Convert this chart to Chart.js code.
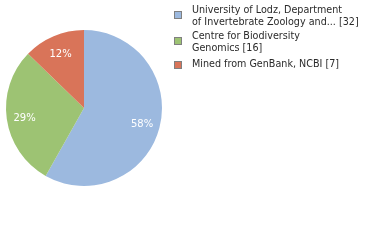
<!DOCTYPE html>
<html><head><meta charset="utf-8">
<script src="https://cdn.jsdelivr.net/npm/chart.js@4/dist/chart.umd.min.js"></script>
<style>html,body{margin:0;padding:0;background:#fff}#wrap{width:380px;height:240px;position:relative}</style>
</head><body><div id="wrap"><canvas id="c" width="380" height="240"></canvas></div>
<script>
const legendLines = [
  ["University of Lodz, Department", "of Invertebrate Zoology and... [32]"],
  ["Centre for Biodiversity", "Genomics [16]"],
  ["Mined from GenBank, NCBI [7]"]
];
const categories = ["University of Lodz, Department of Invertebrate Zoology and...", "Centre for Biodiversity Genomics", "Mined from GenBank, NCBI"];
const counts = [32, 16, 7];
const colors = ["#9cb9df", "#9dc373", "#d97459"];

const FONT = '"DejaVu Sans", Verdana, sans-serif';

const labelPlugin = {
  id: 'pctLabels',
  afterDatasetsDraw(chart) {
    const ctx = chart.ctx;
    const meta = chart.getDatasetMeta(0);
    const total = counts.reduce((a, b) => a + b, 0);
    ctx.save();
    ctx.font = '10px ' + FONT;
    ctx.fillStyle = '#ffffff';
    ctx.textAlign = 'center';
    ctx.textBaseline = 'middle';
    meta.data.forEach((arc, i) => {
      const p = arc.getProps(['x', 'y', 'startAngle', 'endAngle', 'outerRadius'], true);
      const mid = (p.startAngle + p.endAngle) / 2;
      const r = p.outerRadius * 0.77;
      const pct = Math.floor(counts[i] / total * 100) + '%';
      ctx.fillText(pct, p.x + Math.cos(mid) * r, p.y + Math.sin(mid) * r + 1.5);
    });
    // legend
    ctx.textAlign = 'left';
    ctx.textBaseline = 'alphabetic';
    ctx.font = '9.6px ' + FONT;
    const boxX = 174;
    const boxTops = [11, 37, 61];
    const textStarts = [13, 39, 67];
    legendLines.forEach((lines, i) => {
      ctx.fillStyle = colors[i];
      ctx.fillRect(boxX + 0.5, boxTops[i] + 0.5, 7, 7);
      ctx.strokeStyle = '#808080';
      ctx.lineWidth = 1;
      ctx.strokeRect(boxX + 0.5, boxTops[i] + 0.5, 7, 7);
      ctx.fillStyle = '#2a2a2a';
      lines.forEach((t, j) => {
        ctx.fillText(t, 192, textStarts[i] + j * 12);
      });
    });
    ctx.restore();
  }
};

new Chart(document.getElementById('c'), {
  type: 'pie',
  data: {
    labels: categories,
    datasets: [{ data: counts, backgroundColor: colors, borderWidth: 0 }]
  },
  options: {
    responsive: false,
    animation: false,
    layout: { padding: { left: 6, top: 30, right: 218, bottom: 54 } },
    plugins: { legend: { display: false }, tooltip: { enabled: false } }
  },
  plugins: [labelPlugin]
});
</script>
</body></html>
